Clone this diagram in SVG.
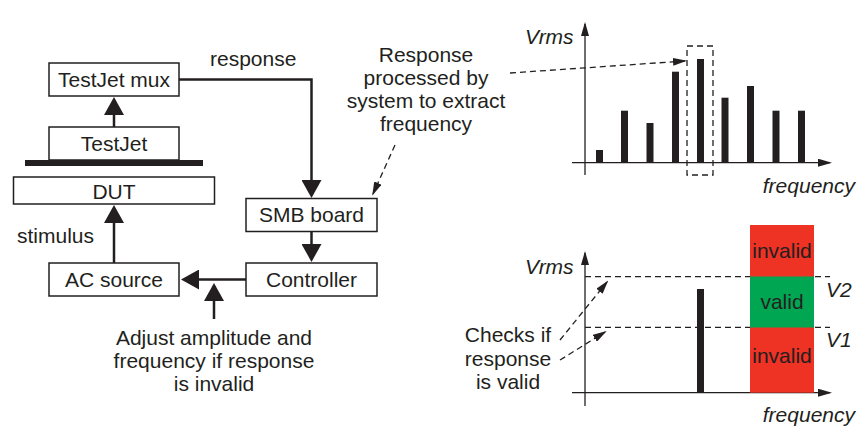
<svg xmlns="http://www.w3.org/2000/svg" width="868" height="428" viewBox="0 0 868 428">
<style>
text{font-family:"Liberation Sans",Arial,sans-serif;font-size:21px;fill:#231f20}
.c{text-anchor:middle}
.i{font-style:italic}
.box{fill:#fff;stroke:#231f20;stroke-width:1.5}
.con{fill:none;stroke:#231f20;stroke-width:2.5}
.dash{fill:none;stroke:#231f20;stroke-width:1.3;stroke-dasharray:6 4}
.ax{fill:none;stroke:#231f20;stroke-width:1.3}
.bar{fill:#231f20}
</style>
<defs>
<marker id="big" markerUnits="userSpaceOnUse" viewBox="0 0 18 20" markerWidth="18" markerHeight="20" refX="14" refY="10" orient="auto">
<path d="M0,0 L18,10 L0,20 z" fill="#231f20"/>
</marker>
<marker id="sm" markerUnits="userSpaceOnUse" viewBox="0 0 14 8" markerWidth="14" markerHeight="8" refX="12" refY="4" orient="auto">
<path d="M0,0 L14,4 L0,8 z" fill="#231f20"/>
</marker>
</defs>

<g id="connectors">
<path class="con" d="M179,79.5 H311.5 V194" marker-end="url(#big)"/>
<path class="con" d="M114,127 V101" marker-end="url(#big)"/>
<path class="con" d="M114,263 V209" marker-end="url(#big)"/>
<path class="con" d="M311.5,231.5 V258" marker-end="url(#big)"/>
<path class="con" d="M246,279.5 H185" marker-end="url(#big)"/>
<path class="con" d="M214,319 V287" marker-end="url(#big)"/>
<path class="dash" d="M395,145 L373,194" marker-end="url(#sm)"/>
<path class="dash" d="M510,73 L685,61" marker-end="url(#sm)"/>
<path class="dash" d="M560,340 L607,282" marker-end="url(#sm)"/>
<path class="dash" d="M560,360 L605,332" marker-end="url(#sm)"/>
</g>

<g id="testjet-mux"><rect class="box" x="49" y="63" width="130" height="33"/><text class="c" x="114" y="87">TestJet mux</text></g>
<g id="testjet"><rect class="box" x="49" y="127" width="130" height="33"/><text class="c" x="114" y="151">TestJet</text></g>
<g id="fixture-bar"><rect x="25" y="160" width="178" height="6" fill="#231f20"/></g>
<g id="dut"><rect class="box" x="13.5" y="177" width="201" height="27"/><text class="c" x="114" y="198.5">DUT</text></g>
<g id="ac-source"><rect class="box" x="49" y="263" width="130" height="33"/><text class="c" x="114" y="287">AC source</text></g>
<g id="smb-board"><rect class="box" x="246" y="198.5" width="131" height="33"/><text class="c" x="311.5" y="222">SMB board</text></g>
<g id="controller"><rect class="box" x="246" y="263" width="131" height="33"/><text class="c" x="311.5" y="287">Controller</text></g>

<g id="labels">
<text x="210" y="66">response</text>
<text x="17" y="243">stimulus</text>
<text class="c" x="426" y="62">Response</text>
<text class="c" x="426" y="85">processed by</text>
<text class="c" x="426" y="108">system to extract</text>
<text class="c" x="426" y="131">frequency</text>
<text class="c" x="214" y="345">Adjust amplitude and</text>
<text class="c" x="214" y="368">frequency if response</text>
<text class="c" x="214" y="391">is invalid</text>
<text class="c" x="508" y="342">Checks if</text>
<text class="c" x="508" y="365.5">response</text>
<text class="c" x="508" y="389">is valid</text>
</g>

<g id="spectrum-chart">
<path class="ax" d="M585,175 V24" marker-end="url(#sm)"/>
<path class="ax" d="M572,162.7 H830" marker-end="url(#sm)"/>
<rect class="bar" x="596" y="150" width="7" height="12.7"/>
<rect class="bar" x="621" y="110.7" width="7" height="52"/>
<rect class="bar" x="646.5" y="123" width="7" height="39.7"/>
<rect class="bar" x="672" y="71.7" width="7" height="91"/>
<rect class="bar" x="697" y="59" width="7" height="103.7"/>
<rect class="bar" x="721.5" y="97.7" width="7" height="65"/>
<rect class="bar" x="747" y="86" width="7" height="76.7"/>
<rect class="bar" x="772.5" y="110.7" width="7" height="52"/>
<rect class="bar" x="798" y="110.7" width="7" height="52"/>
<rect class="dash" x="687" y="46" width="26" height="129"/>
<text class="i" x="525" y="44">Vrms</text>
<text class="i" x="855" y="193" text-anchor="end">frequency</text>
</g>

<g id="validity-chart">
<path class="ax" d="M585,406 V253" marker-end="url(#sm)"/>
<path class="ax" d="M572,392.7 H830" marker-end="url(#sm)"/>
<path class="dash" d="M585,276.7 H830 M585,327.3 H830"/>
<rect x="750" y="225" width="64" height="167.7" fill="#ee3224"/>
<rect x="750" y="276.5" width="64" height="51" fill="#00a651"/>
<rect class="bar" x="697" y="289" width="7" height="103.7"/>
<text class="i" x="525" y="274">Vrms</text>
<text class="i" x="826" y="297">V2</text>
<text class="i" x="826" y="347">V1</text>
<text class="c" x="782" y="258">invalid</text>
<text class="c" x="782" y="309">valid</text>
<text class="c" x="782" y="363">invalid</text>
<text class="i" x="855" y="422" text-anchor="end">frequency</text>
</g>
</svg>
